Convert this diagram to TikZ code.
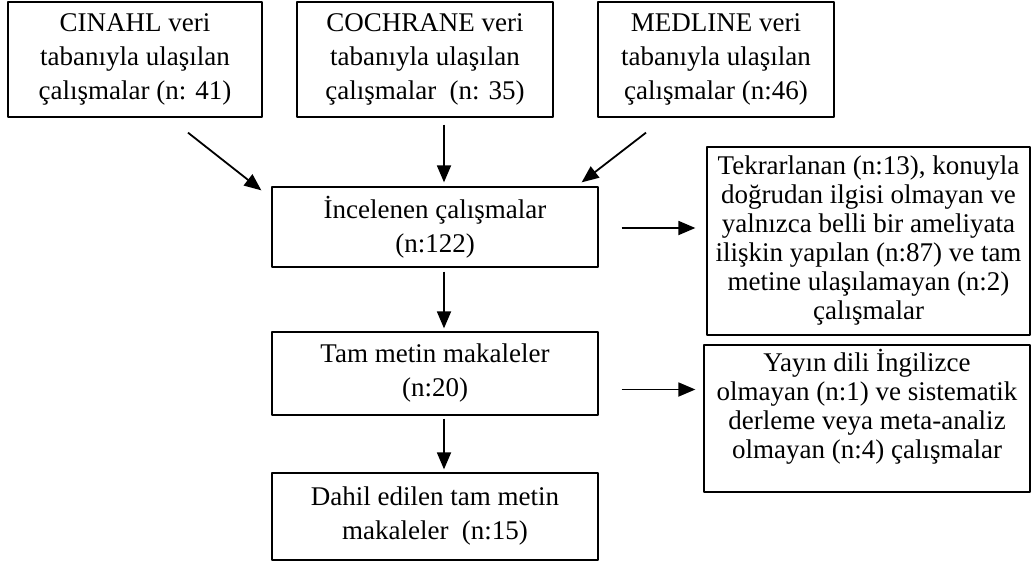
\documentclass[tikz,border=0pt]{standalone}
\usepackage{fontspec}
\setmainfont{Liberation Serif}
\usetikzlibrary{arrows.meta,calc}
\begin{document}
\begin{tikzpicture}[x=1pt,y=-1pt,line join=round,
	kutu/.style={draw,line width=1.3pt,align=center,inner sep=2pt,font=\fontsize{27}{34}\selectfont},
	yankutu/.style={kutu,font=\fontsize{27}{29}\selectfont},
	ok/.style={line width=1.8pt,-{Triangle[length=17pt,width=14pt]}}]
	\useasboundingbox (0,0) rectangle (1031,562);
	% kaynak veri tabanlari
	\node[kutu,minimum width=254pt,minimum height=115pt] (cinahl) at (135,59.5) {CINAHL veri\\tabanıyla ulaşılan\\çalışmalar (n: 41)};
	\node[kutu,minimum width=256pt,minimum height=115pt] (cochrane) at (425,59.5) {COCHRANE veri\\tabanıyla ulaşılan\\çalışmalar\ \ (n: 35)};
	\node[kutu,minimum width=236pt,minimum height=115pt] (medline) at (716,59.5) {MEDLINE veri\\tabanıyla ulaşılan\\çalışmalar (n:46)};
	% orta sutun
	\node[kutu,minimum width=326pt,minimum height=80pt] (incelenen) at (435,227) {İncelenen çalışmalar\\(n:122)};
	\node[kutu,minimum width=326pt,minimum height=83pt] (tam) at (435,373.5) {Tam metin makaleler\\(n:20)};
	\node[kutu,minimum width=326pt,minimum height=87pt] (dahil) at (435,516.5) {Dahil edilen tam metin\\makaleler\ \ (n:15)};
	% dislanan calismalar
	\node[yankutu,minimum width=323pt,minimum height=188pt] (tekrar) at (868.5,241) {Tekrarlanan (n:13), konuyla\\doğrudan ilgisi olmayan ve\\yalnızca belli bir ameliyata\\ilişkin yapılan (n:87) ve tam\\metine ulaşılamayan (n:2)\\çalışmalar};
	\node[yankutu,minimum width=326pt,minimum height=147pt] (yayin) at (867,418.5) {Yayın dili İngilizce\\olmayan (n:1) ve sistematik\\derleme veya meta-analiz\\olmayan (n:4) çalışmalar\\\mbox{}};
	% oklar
	\draw[ok] ([xshift=53pt,yshift=-15pt]cinahl.south) -- ([xshift=-10pt,yshift=-4pt]incelenen.north west);
	\draw[ok] ([xshift=19pt,yshift=-7pt]cochrane.south) -- ([xshift=9pt,yshift=4pt]incelenen.north);
	\draw[ok] ([xshift=-70pt,yshift=-15pt]medline.south) -- ([xshift=-17pt,yshift=4pt]incelenen.north east);
	\coordinate (c1) at ([xshift=23pt,yshift=-1pt]incelenen.east);
	\draw[ok] (c1) -- ($(tekrar.west |- c1)+(-11,0)$);
	\coordinate (c2) at ([xshift=23pt,yshift=-16pt]tam.east);
	\draw[ok] (c2) -- ($(yayin.west |- c2)+(-8,0)$);
	\draw[ok] ([xshift=9pt,yshift=-4pt]incelenen.south) -- ([xshift=9pt,yshift=3pt]tam.north);
	\draw[ok] ([xshift=9pt,yshift=-3pt]tam.south) -- ([xshift=9pt,yshift=3pt]dahil.north);
\end{tikzpicture}
\end{document}
